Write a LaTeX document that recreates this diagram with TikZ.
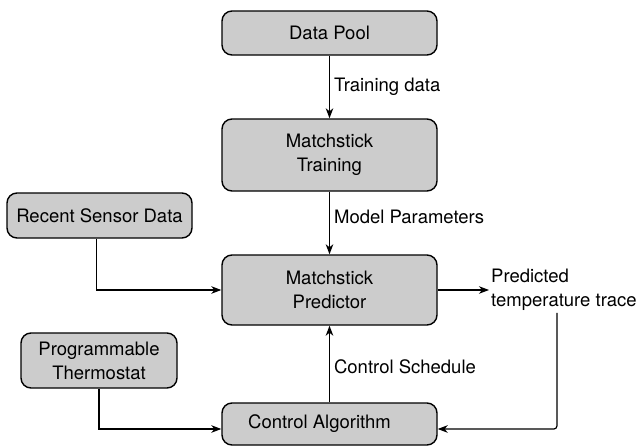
\documentclass[tikz,border=0pt]{standalone}
\usepackage{fontspec}
\setmainfont{TeX Gyre Heros}
\usetikzlibrary{arrows.meta,positioning}
\begin{document}
\begin{tikzpicture}[x=1pt,y=1pt,
  font=\fontsize{18.5}{24}\selectfont,
  box/.style={draw=black, line width=1.4pt, fill=black!20, rounded corners=10pt,
    align=center, inner sep=0pt, minimum width=215pt},
  conn/.style={line width=1.2pt, -{Stealth[length=10pt,width=7.5pt,inset=3pt]}},
  lab/.style={right, inner sep=4pt}
]
\useasboundingbox (0,0) rectangle (638,-447);
\node[box, minimum height=44pt] (pool) at (329.5,-33) {Data Pool};
\node[box, minimum height=72pt] (train) at (329.5,-155) {Matchstick\\Training};
\node[box, minimum height=70pt] (pred) at (329.5,-290) {Matchstick\\Predictor};
\node[box, minimum height=42pt] (ctrl) at (329.5,-424) {Control Algorithm\hspace{20pt}};
\node[box, minimum width=185pt, minimum height=45pt] (sensor) at (99.5,-215.5) {Recent Sensor Data};
\node[box, minimum width=156pt, minimum height=55pt] (thermo) at (99,-360.5) {Programmable\\Thermostat};
\node[anchor=west, align=left, inner sep=2pt] (lbl) at (489,-290) {Predicted\\temperature trace};

\draw[conn] (pool) -- node[lab] {Training data} (train);
\draw[conn] (train) -- node[lab, yshift=6pt] {Model Parameters} (pred);
\draw[conn] (ctrl) -- node[lab, yshift=-3pt] {Control Schedule} (pred);
\draw[conn] ([xshift=-3pt]sensor.south) |- (pred.west);
\draw[conn] (thermo.south) |- ([yshift=-5pt]ctrl.west);
\draw[conn] (pred.east) -- (lbl.west);
\draw[conn, rounded corners=3pt] ([xshift=-7pt]lbl.south) |- ([yshift=-5pt]ctrl.east);
\end{tikzpicture}
\end{document}
